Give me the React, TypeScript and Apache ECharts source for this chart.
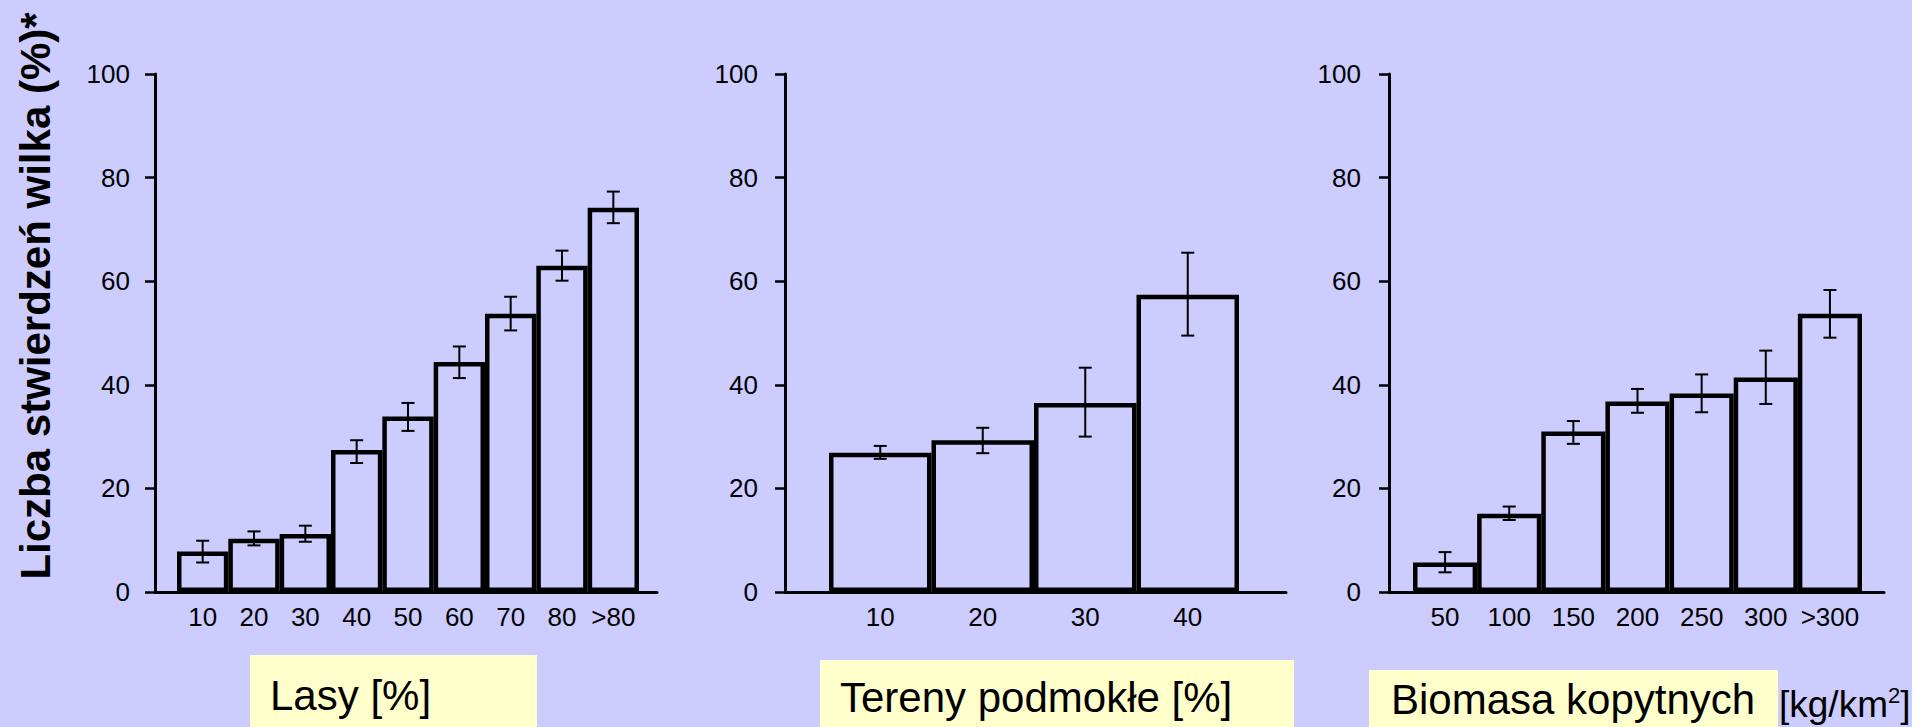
import React, { useEffect, useRef } from "react";
import * as echarts from "echarts";

const lasyCats = ["10", "20", "30", "40", "50", "60", "70", "80", ">80"];
const lasyVals = [7.8, 10.3, 11.2, 27.4, 33.9, 44.4, 53.7, 63.0, 74.2];
const lasyLow = [5.7, 9.0, 9.7, 24.9, 31.1, 41.3, 50.5, 60.1, 71.2];
const lasyHigh = [9.9, 11.7, 12.8, 29.3, 36.5, 47.4, 57.0, 65.9, 77.3];

const terenyCats = ["10", "20", "30", "40"];
const terenyVals = [26.9, 29.3, 36.5, 57.4];
const terenyLow = [25.7, 26.8, 30.0, 49.5];
const terenyHigh = [28.2, 31.7, 43.3, 65.5];

const biomasaCats = ["50", "100", "150", "200", "250", "300", ">300"];
const biomasaVals = [5.7, 15.1, 31.0, 36.8, 38.3, 41.4, 53.7];
const biomasaLow = [3.8, 13.9, 28.6, 34.6, 34.7, 36.3, 49.1];
const biomasaHigh = [7.7, 16.5, 33.0, 39.2, 42.0, 46.6, 58.3];

const yMin = 0;
const yMax = 100;
const yInterval = 20;

const yTitle = "Liczba stwierdzeń wilka (%)*";
const xTitles = ["Lasy [%]", "Tereny podmokłe [%]", "Biomasa kopytnych"];
const unitText = "{a|[kg/km}{s|2}{a|]}";

const FONT = '"Liberation Sans", Arial, Helvetica, sans-serif';
const BG = "#CCCCFF";
const BOX = "#FFFFCC";

const panels = [
  { cats: lasyCats, vals: lasyVals, low: lasyLow, high: lasyHigh, axisLeft: 155, axisWidth: 502, yOffset: 5, barLeft: 177, barWidth: 462 },
  { cats: terenyCats, vals: terenyVals, low: terenyLow, high: terenyHigh, axisLeft: 785, axisWidth: 501, yOffset: 7, barLeft: 829, barWidth: 410 },
  { cats: biomasaCats, vals: biomasaVals, low: biomasaLow, high: biomasaHigh, axisLeft: 1389, axisWidth: 495, yOffset: 8, barLeft: 1413, barWidth: 449 },
];

const GRID_TOP = 74;
const GRID_HEIGHT = 518;

function errorRender(params: any, api: any) {
  const i = api.value(0);
  const lo = api.coord([i, api.value(1)]);
  const hi = api.coord([i, api.value(2)]);
  const half = 6.5;
  const st = { stroke: "#000", lineWidth: 2 };
  return {
    type: "group",
    children: [
      { type: "line", shape: { x1: lo[0], y1: lo[1], x2: hi[0], y2: hi[1] }, style: st },
      { type: "line", shape: { x1: lo[0] - half, y1: lo[1], x2: lo[0] + half, y2: lo[1] }, style: st },
      { type: "line", shape: { x1: hi[0] - half, y1: hi[1], x2: hi[0] + half, y2: hi[1] }, style: st },
    ],
  };
}

function buildOption() {
  const grid: any[] = [];
  const xAxis: any[] = [];
  const yAxis: any[] = [];
  const series: any[] = [];
  panels.forEach((p, k) => {
    const a = 2 * k;
    const b = 2 * k + 1;
    grid.push({ left: p.axisLeft, width: p.axisWidth, top: GRID_TOP, height: GRID_HEIGHT });
    grid.push({ left: p.barLeft, width: p.barWidth, top: GRID_TOP, height: GRID_HEIGHT });
    xAxis.push({
      gridIndex: a, type: "value", min: 0, max: 1,
      axisLine: { show: true, lineStyle: { color: "#000", width: 3 } },
      axisTick: { show: false }, axisLabel: { show: false }, splitLine: { show: false },
    });
    xAxis.push({
      gridIndex: b, type: "category", data: p.cats, boundaryGap: true,
      axisLine: { show: false }, axisTick: { show: false }, splitLine: { show: false },
      axisLabel: { interval: 0, fontSize: 26, color: "#000", margin: 12, fontFamily: FONT },
    });
    yAxis.push({
      gridIndex: a, type: "value", min: yMin, max: yMax, interval: yInterval, offset: p.yOffset,
      axisLine: { show: true, lineStyle: { color: "#000", width: 3 } },
      axisTick: { show: true, inside: false, length: 10, lineStyle: { color: "#000", width: 2.5 } },
      axisLabel: { fontSize: 26, color: "#000", margin: 20, fontFamily: FONT, padding: [5, 0, 0, 0] },
      splitLine: { show: false },
    });
    yAxis.push({ gridIndex: b, type: "value", min: yMin, max: yMax, show: false, splitLine: { show: false } });
    series.push({
      type: "bar", xAxisIndex: b, yAxisIndex: b, data: p.vals,
      barCategoryGap: "0%", barWidth: "100%", silent: true,
      itemStyle: { color: BG, borderColor: "#000", borderWidth: 4.5 },
      z: 3,
    });
    series.push({
      type: "custom", xAxisIndex: b, yAxisIndex: b,
      data: p.low.map((l, i) => [i, l, p.high[i]]),
      renderItem: errorRender, silent: true, z: 5,
    });
  });

  const graphic: any[] = [
    {
      type: "text", x: 35, y: 296, rotation: Math.PI / 2,
      style: { text: yTitle, font: `bold 42px ${FONT}`, fill: "#000", align: "center", verticalAlign: "middle" },
    },
    { type: "rect", shape: { x: 250, y: 655, width: 287, height: 80 }, style: { fill: BOX } },
    { type: "rect", shape: { x: 820, y: 660, width: 474, height: 80 }, style: { fill: BOX } },
    { type: "rect", shape: { x: 1369, y: 670, width: 409, height: 70 }, style: { fill: BOX } },
    { type: "text", x: 270, y: 695, style: { text: xTitles[0], font: `42px ${FONT}`, fill: "#000", align: "left", verticalAlign: "middle" } },
    { type: "text", x: 840, y: 697, style: { text: xTitles[1], font: `42px ${FONT}`, fill: "#000", align: "left", verticalAlign: "middle" } },
    { type: "text", x: 1391, y: 699, style: { text: xTitles[2], font: `42px ${FONT}`, fill: "#000", align: "left", verticalAlign: "middle" } },
    {
      type: "text", x: 1779, y: 704,
      style: {
        text: unitText, fill: "#000", align: "left", verticalAlign: "middle",
        rich: {
          a: { fontSize: 37, fontFamily: FONT, fill: "#000", lineHeight: 40 },
          s: { fontSize: 22, fontFamily: FONT, fill: "#000", verticalAlign: "top", lineHeight: 40 },
        },
      },
    },
  ];

  return {
    animation: false,
    backgroundColor: BG,
    textStyle: { fontFamily: FONT },
    grid, xAxis, yAxis, series, graphic,
  };
}

export default function App() {
  const ref = useRef<HTMLDivElement>(null);
  useEffect(() => {
    if (!ref.current) return;
    const chart = echarts.init(ref.current, undefined, { renderer: "svg" });
    chart.setOption(buildOption() as any);
    return () => chart.dispose();
  }, []);
  return (
    <div style={{ position: "fixed", left: 0, top: 0, width: 1932, height: 727, background: "#fff" }}>
      <div ref={ref} style={{ width: 1912, height: 727 }} />
    </div>
  );
}
